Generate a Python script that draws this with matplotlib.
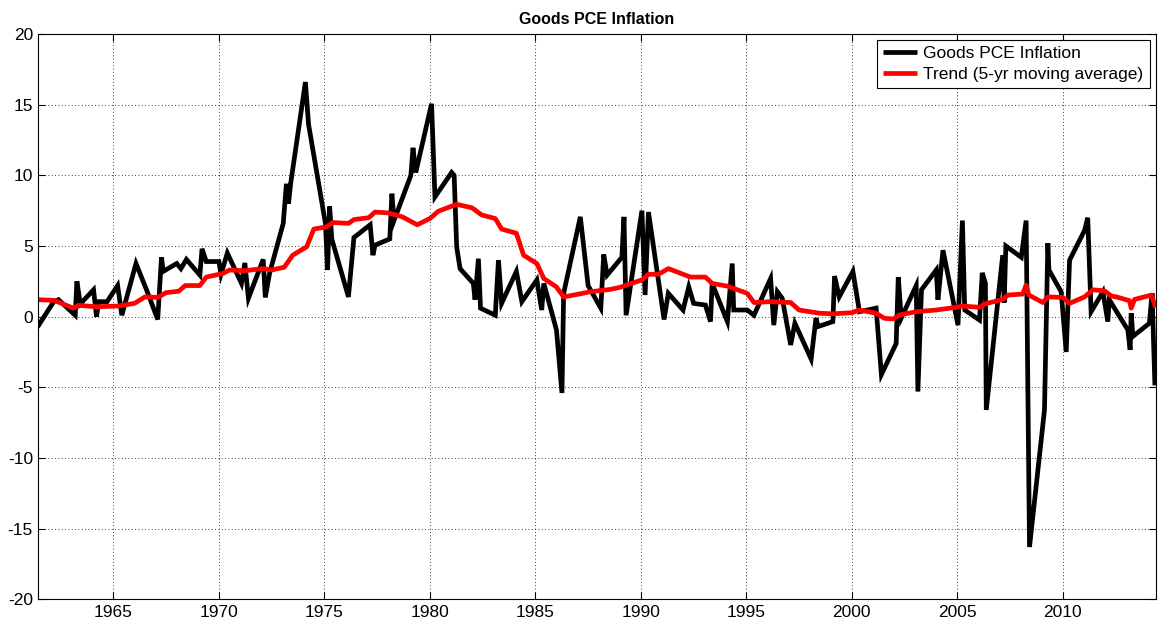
import matplotlib
matplotlib.use('Agg')
import matplotlib.pyplot as plt

# Goods PCE inflation (quarterly, annualised %)
pce_year = [1961.46, 1962.17, 1962.4, 1963.19, 1963.27, 1963.43, 1964.06, 1964.2, 1964.3, 1964.7,
            1965.2, 1965.4, 1966.07, 1966.57, 1967.1, 1967.28, 1967.36, 1968.0, 1968.2, 1968.46,
            1969.1, 1969.2, 1969.4, 1970.0, 1970.1, 1970.4, 1971.07, 1971.23, 1971.4, 1972.1,
            1972.2, 1972.4, 1973.05, 1973.2, 1973.3, 1973.4, 1974.1, 1974.25, 1975.05, 1975.15,
            1975.25, 1975.35, 1976.14, 1976.4, 1977.17, 1977.3, 1977.4, 1978.1, 1978.2, 1978.3,
            1979.1, 1979.2, 1979.33, 1980.08, 1980.24, 1981.03, 1981.15, 1981.27, 1981.43, 1982.06,
            1982.14, 1982.3, 1982.4, 1983.1, 1983.25, 1983.4, 1984.1, 1984.36, 1985.07, 1985.3,
            1985.4, 1986.0, 1986.26, 1986.34, 1987.13, 1987.5, 1988.1, 1988.24, 1988.4, 1989.1,
            1989.2, 1989.3, 1990.05, 1990.2, 1990.36, 1991.1, 1991.3, 1992.0, 1992.27, 1992.5,
            1993.06, 1993.3, 1993.38, 1994.1, 1994.33, 1994.4, 1995.04, 1995.36, 1996.15, 1996.3,
            1996.47, 1996.7, 1997.1, 1997.3, 1998.07, 1998.3, 1998.4, 1999.1, 1999.18, 1999.4,
            2000.05, 2000.36, 2001.15, 2001.4, 2002.1, 2002.2, 2002.34, 2003.05, 2003.13, 2003.3,
            2004.0, 2004.08, 2004.32, 2005.03, 2005.24, 2005.35, 2006.05, 2006.18, 2006.33, 2006.37,
            2007.15, 2007.22, 2007.3, 2008.03, 2008.26, 2008.42, 2009.13, 2009.29, 2009.34, 2009.92,
            2010.16, 2010.32, 2011.03, 2011.18, 2011.34, 2011.9, 2012.13, 2012.2, 2013.08, 2013.19,
            2013.24, 2013.32, 2014.1, 2014.23, 2014.36]
pce_val = [-0.6, 1.06, 1.2, 0.1, 2.5, 0.9, 1.9, 0.0, 1.06, 1.06,
           2.2, 0.1, 3.76, 1.9, -0.2, 4.2, 3.2, 3.76, 3.4, 4.05,
           2.94, 4.8, 3.9, 3.9, 3.0, 4.5, 2.35, 3.8, 1.3, 4.05,
           1.36, 3.06, 6.6, 9.4, 8.0, 9.4, 16.6, 13.6, 6.6, 3.3,
           7.8, 5.5, 1.4, 5.6, 6.5, 4.35, 5.06, 5.5, 8.7, 6.8,
           10.0, 11.95, 10.2, 15.06, 8.47, 10.2, 10.0, 4.94, 3.4, 2.35,
           1.2, 4.1, 0.6, 0.1, 4.0, 0.94, 3.2, 1.06, 2.6, 0.47,
           2.35, -0.94, -5.4, 1.65, 7.06, 2.2, 0.6, 4.4, 2.94, 4.2,
           7.06, 0.1, 7.5, 1.53, 7.4, -0.2, 1.65, 0.47, 2.1, 0.94,
           0.82, -0.35, 2.35, -0.35, 3.76, 0.47, 0.47, 0.1, 2.7, -0.6,
           1.76, 1.3, -2.0, -0.47, -3.0, -0.1, -0.7, -0.35, 2.87, 1.4,
           3.2, 0.35, 0.6, -4.1, -1.9, 2.8, -0.1, 2.2, -5.3, 1.9,
           3.3, 1.2, 4.7, -0.6, 6.8, 0.47, -0.24, 3.1, 2.35, -6.6,
           4.35, 1.0, 5.0, 4.2, 6.8, -16.3, -6.6, 5.2, 3.3, 1.76,
           -2.5, 4.0, 6.1, 7.0, 0.35, 1.76, -0.35, 1.2, -0.94, -2.35,
           0.24, -1.4, -0.47, 1.65, -4.7]

# 5-yr moving average trend
trend_year = [1961.46, 1962.2, 1963.1, 1963.35, 1964.2, 1965.2, 1966.0, 1966.5, 1967.1, 1967.5,
              1968.1, 1968.4, 1969.1, 1969.4, 1970.2, 1970.5, 1971.2, 1972.1, 1972.5, 1973.1,
              1973.5, 1974.16, 1974.5, 1975.1, 1975.4, 1976.14, 1976.4, 1977.1, 1977.4, 1978.04,
              1978.7, 1979.4, 1980.0, 1980.4, 1981.27, 1982.0, 1982.45, 1983.1, 1983.4, 1984.1,
              1984.44, 1985.07, 1985.4, 1986.0, 1986.34, 1987.0, 1987.6, 1988.56, 1989.0, 1990.05,
              1990.36, 1990.84, 1991.3, 1992.35, 1993.06, 1993.38, 1994.1, 1995.04, 1995.36, 1996.15,
              1997.1, 1997.5, 1998.47, 1999.1, 2000.0, 2000.36, 2001.15, 2001.55, 2001.95, 2002.26,
              2003.05, 2004.0, 2004.95, 2005.27, 2006.05, 2006.3, 2007.16, 2007.4, 2008.1, 2008.26,
              2008.39, 2009.05, 2009.29, 2010.0, 2010.32, 2011.03, 2011.42, 2011.97, 2012.3, 2012.53,
              2013.16, 2013.24, 2013.4, 2014.2, 2014.36]
trend_val = [1.2, 1.15, 0.6, 0.8, 0.7, 0.75, 0.94, 1.4, 1.36, 1.7,
             1.8, 2.2, 2.2, 2.8, 3.06, 3.3, 3.25, 3.4, 3.3, 3.5,
             4.35, 4.94, 6.2, 6.35, 6.66, 6.6, 6.87, 7.0, 7.4, 7.34,
             7.06, 6.5, 6.94, 7.46, 7.95, 7.7, 7.2, 6.94, 6.2, 5.9,
             4.35, 3.76, 2.7, 2.1, 1.4, 1.58, 1.76, 1.93, 2.07, 2.6,
             3.0, 3.0, 3.4, 2.8, 2.8, 2.35, 2.16, 1.65, 1.0, 1.06,
             1.0, 0.47, 0.24, 0.2, 0.28, 0.47, 0.24, -0.12, -0.16, 0.12,
             0.35, 0.47, 0.66, 0.75, 0.66, 0.9, 1.22, 1.53, 1.6, 2.24,
             1.53, 1.0, 1.4, 1.36, 0.94, 1.4, 1.9, 1.83, 1.46, 1.4,
             1.13, 0.6, 1.22, 1.53, 0.82]

x_ticks = list(range(1965, 2015, 5))
y_ticks = list(range(-20, 25, 5))

plt.rcParams['font.family'] = ['Liberation Sans', 'DejaVu Sans']
plt.rcParams['axes.unicode_minus'] = False

fig = plt.figure(figsize=(11.63, 6.24), dpi=100)
ax = fig.add_axes([0.0331, 0.0396, 0.9606, 0.9059])

ax.plot(pce_year, pce_val, color='black', lw=3.4, solid_joinstyle='miter', label='Goods PCE Inflation')
ax.plot(trend_year, trend_val, color='#ff0000', lw=3.4, label='Trend (5-yr moving average)')

ax.set_xlim(1961.45, 2014.4)
ax.set_ylim(-20, 20)
ax.set_xticks(x_ticks)
ax.set_yticks(y_ticks)
ax.tick_params(direction='in', top=True, right=True, labelsize=12.5, length=5, width=0.8, pad=4)
ax.grid(True, color='black', linestyle=(0, (1, 3)), linewidth=0.6)
for s in ax.spines.values():
    s.set_linewidth(0.8)

ax.set_title('Goods PCE Inflation', fontsize=11.5, fontweight='bold', pad=7)

leg = ax.legend(loc='upper right', fontsize=12.5, fancybox=False, edgecolor='black',
                framealpha=1, borderaxespad=0.35, handlelength=2.0, handletextpad=0.35,
                borderpad=0.35, labelspacing=0.3)
leg.get_frame().set_linewidth(0.8)
for line in leg.get_lines():
    line.set_solid_capstyle('butt')

plt.savefig('out.png', dpi=100)
